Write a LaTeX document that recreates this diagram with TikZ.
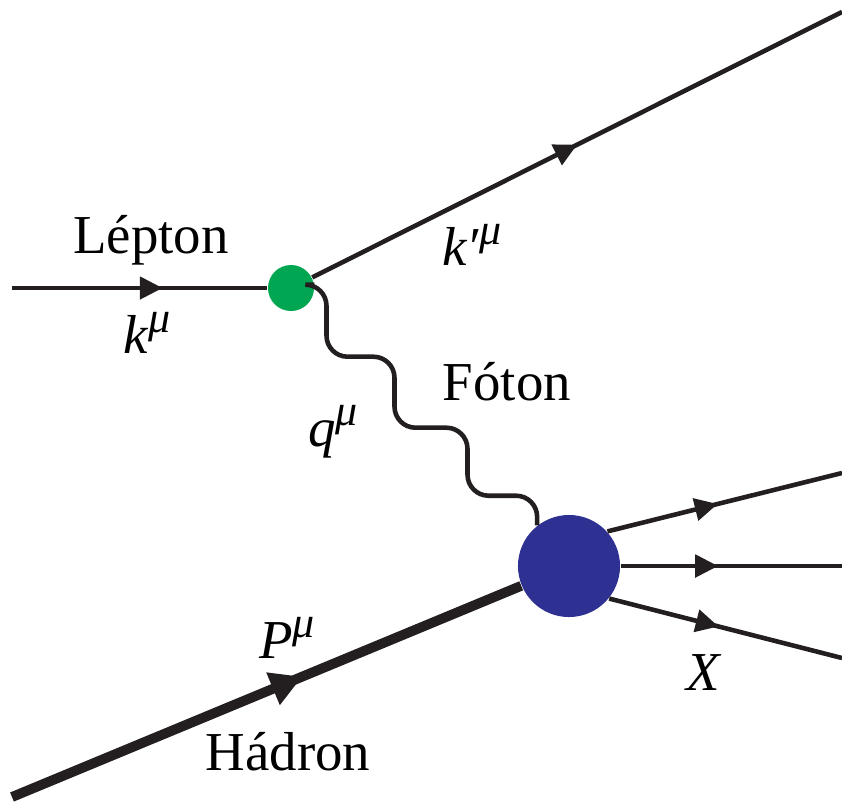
\documentclass[tikz,border=0pt]{standalone}
\usepackage{fontspec}
\setmainfont{Liberation Serif}
\usepackage{tikz}
\usetikzlibrary{arrows.meta, decorations.markings}

\definecolor{lineblack}{RGB}{35,31,32}
\definecolor{vtxgreen}{RGB}{0,166,81}
\definecolor{blobblue}{RGB}{46,49,146}

\newcommand{\mom}[1]{\textit{#1}\raisebox{6pt}{\fontsize{12.5}{13}\selectfont\textit{μ}}}

\begin{document}
\begin{tikzpicture}[
  x=0.01cm, y=-0.01cm,
  every node/.style={font=\fontsize{15.6}{18}\selectfont},
  fermion/.style={draw, color=lineblack, line width=1.3pt, postaction={decorate},
    decoration={markings, mark=at position #1 with {\arrow{Triangle[length=6.5pt, width=6.3pt]}}}},
  hadron/.style={draw, color=lineblack, line width=2.8pt, postaction={decorate},
    decoration={markings, mark=at position #1 with {\arrow{Triangle[length=9pt, width=9.4pt]}}}},
  photon/.style={draw, color=lineblack, line width=1.3pt, rounded corners=6pt},
  vertex/.style={circle, fill=vtxgreen, minimum size=0.46cm, inner sep=0pt},
  blobstyle/.style={circle, fill=blobblue, minimum size=1.02cm, inner sep=0pt},
]
\useasboundingbox (0,0) rectangle (842,805);

% Vertices
\node[vertex] (vtx) at (291,288) {};
\node[blobstyle] (blob) at (569,566) {};

% Free ends
\coordinate (lin) at (12,288);
\coordinate (lout) at (842,12);
\coordinate (hin) at (12,797);
\coordinate (x1) at (842,473);
\coordinate (x2) at (842,566);
\coordinate (x3) at (842,658);

% Lines
\draw[fermion=0.59] (lin) -- (vtx);
\draw[fermion=0.50] (vtx) -- (lout);
\draw[hadron=0.57] (hin) -- (blob);
\draw[photon] (vtx.8) -| ++(12,72) -| ++(68,71) -| ++(73,68) -| (blob.128);
\draw[fermion=0.47] (blob.42) -- (x1);
\draw[fermion=0.44] (blob.east) -- (x2);
\draw[fermion=0.47] (blob.-39) -- (x3);

% Labels
\node (lepton) at (151,240) {Lépton};
\node (kin) at (147,333) {\mom{k}};
\node (kout) at (472,245) {\mom{k′}};
\node (foton) at (507,382) {Fóton};
\node (qmom) at (333,432) {\mom{q}};
\node (pmom) at (287,638) {\mom{P}};
\node (hadronlbl) at (288,752) {Hádron};
\node (xlbl) at (704,673) {\textit{X}};

\end{tikzpicture}
\end{document}
